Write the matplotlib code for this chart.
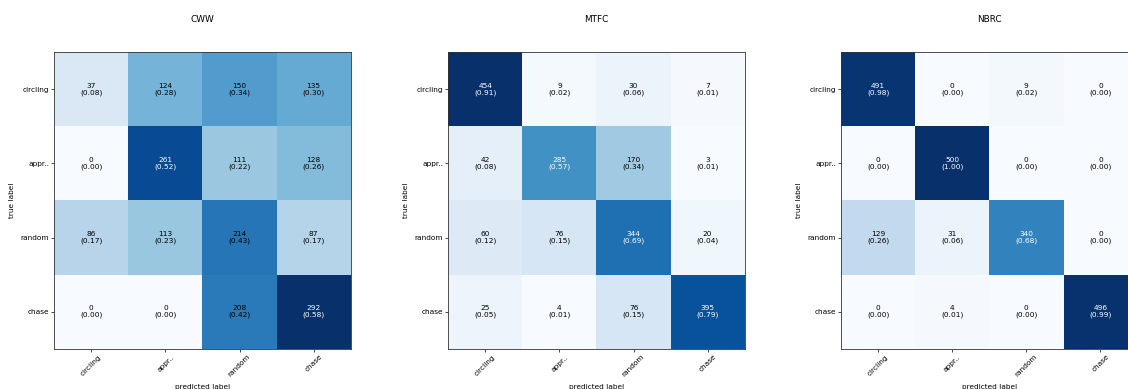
import numpy as np
import matplotlib
matplotlib.use("Agg")
import matplotlib.pyplot as plt

class_names = ["circling", "appr..", "random", "chase"]
titles = ["CWW", "MTFC", "NBRC"]

cww = [[37, 124, 150, 135],
       [0, 261, 111, 128],
       [86, 113, 214, 87],
       [0, 0, 208, 292]]
mtfc = [[454, 9, 30, 7],
        [42, 285, 170, 3],
        [60, 76, 344, 20],
        [25, 4, 76, 395]]
nbrc = [[491, 0, 9, 0],
        [0, 500, 0, 0],
        [129, 31, 340, 0],
        [0, 4, 0, 496]]

matrices = [cww, mtfc, nbrc]

fig = plt.figure(figsize=(11.28, 3.89), dpi=100)

lefts = [0.0481, 0.3974, 0.7456]
small = 5.3

for left, title, mat in zip(lefts, titles, matrices):
    ax = fig.add_axes([left, 0.1036, 0.2628, 0.762])
    conf = np.array(mat, dtype=float)
    normed = conf / conf.sum(axis=1, keepdims=True)
    ax.imshow(normed, cmap="Blues", interpolation="nearest", aspect="auto")
    for i in range(normed.shape[0]):
        for j in range(normed.shape[1]):
            txt = f"{int(conf[i, j])}\n({normed[i, j]:.2f})"
            ax.text(j, i, txt, ha="center", va="center", fontsize=small,
                    color="white" if normed[i, j] > 0.5 else "black")
    ticks = np.arange(len(class_names))
    ax.set_xticks(ticks)
    ax.set_xticklabels(class_names, rotation=45, fontsize=small)
    ax.set_yticks(ticks)
    ax.set_yticklabels(class_names, fontsize=small)
    ax.tick_params(length=2, width=0.5, pad=1.5)
    for sp in ax.spines.values():
        sp.set_linewidth(0.6)
        sp.set_color("#333333")
    ax.set_xlabel("predicted label", fontsize=small, labelpad=4.5)
    ax.set_ylabel("true label", fontsize=small, labelpad=4)
    ax.set_title(title, fontsize=6.4, pad=22)

fig.savefig("out.png", dpi=100)
